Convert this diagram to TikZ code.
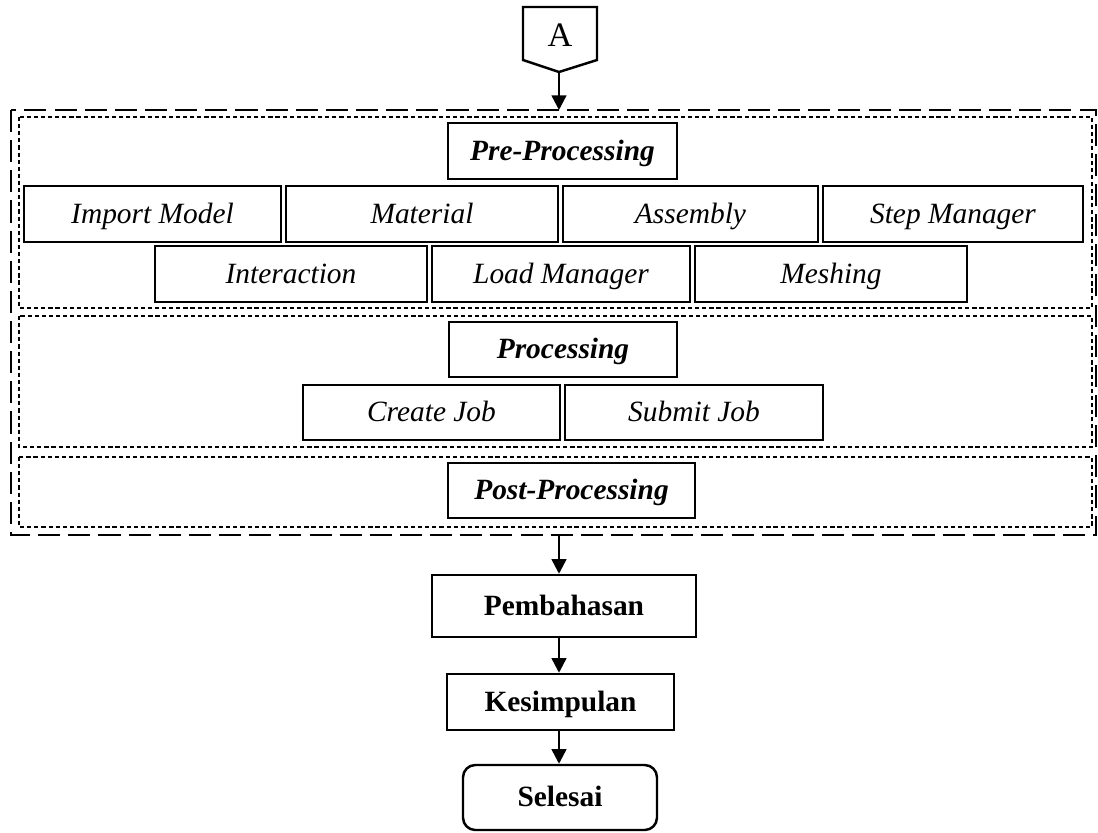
\documentclass[tikz,border=0pt]{standalone}
\usepackage{fontspec}
\setmainfont{Liberation Serif}
\usetikzlibrary{arrows.meta}

\begin{document}
\begin{tikzpicture}[x=0.408pt,y=-0.408pt,
    font=\fontsize{12pt}{14pt}\selectfont,
    box/.style={draw,line width=1pt,inner sep=0pt,text height=8.7pt,text depth=1.3pt,minimum width=#1*0.408pt,minimum height=56*0.408pt,font=\fontsize{12pt}{14pt}\selectfont\itshape},
    head/.style={box=#1,font=\fontsize{12pt}{14pt}\selectfont\bfseries\itshape},
    endbox/.style={box=#1,font=\fontsize{12pt}{14pt}\selectfont\bfseries},
    outerdash/.style={line width=1.1pt,dash pattern=on 9pt off 3.3pt},
    innerdash/.style={line width=0.5pt,dash pattern=on 1.7pt off 1.2pt},
    arr/.style={-{Triangle[length=6pt,width=6pt]},line width=1pt}]
    \useasboundingbox (0,0) rectangle (1098,833);

    % off-page connector
    \draw[line width=1pt] (523,7)--(597,7)--(597,60)--(559,72)--(523,60)--cycle;
    \node[font=\fontsize{14pt}{16pt}\selectfont] (A) at (560,35) {A};
    \coordinate (Atip) at (559,72);

    % frames
    \draw[outerdash] (11,110) rectangle (1096,535);
    \coordinate (outerTop) at (559,110);
    \coordinate (outerBot) at (559,535);
    \draw[innerdash] (19,117) rectangle (1092,308);
    \draw[innerdash] (19,316) rectangle (1092,447);
    \draw[innerdash] (19,457) rectangle (1092,527);

    % pre-processing
    \node[head=229] (pre) at (562.5,151) {Pre-Processing};
    \node[box=257] (imp) at (152.5,214) {Import Model};
    \node[box=272] (mat) at (422,214) {Material};
    \node[box=255] (asm) at (690.5,214) {Assembly};
    \node[box=260] (stp) at (953,214) {Step Manager};
    \node[box=272] (inter) at (291,274) {Interaction};
    \node[box=258] (load) at (561,274) {Load Manager};
    \node[box=272] (mesh) at (831,274) {Meshing};

    % processing
    \node[head=228,minimum height=55*0.408pt] (proc) at (563,349.5) {Processing};
    \node[box=257,minimum height=55*0.408pt] (create) at (431.5,412.5) {Create Job};
    \node[box=258,minimum height=55*0.408pt] (submit) at (694,412.5) {Submit Job};

    % post-processing
    \node[head=247,minimum height=55*0.408pt] (post) at (571.5,490.5) {Post-Processing};

    \node[endbox=264,minimum height=62*0.408pt] (pemb) at (564,606) {Pembahasan};
    \node[endbox=227] (kes) at (560.5,702) {Kesimpulan};
    \node[endbox=194,minimum height=65*0.408pt,rounded corners=5pt] (sel) at (560,797.5) {Selesai};

    \draw[arr] (Atip) -- (outerTop);
    \draw[arr] (outerBot) -- (outerBot |- pemb.north);
    \draw[arr] (outerBot |- pemb.south) -- (outerBot |- kes.north);
    \draw[arr] (outerBot |- kes.south) -- (outerBot |- sel.north);

\end{tikzpicture}
\end{document}
